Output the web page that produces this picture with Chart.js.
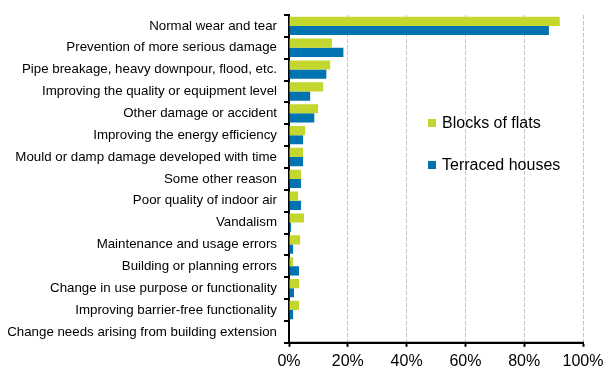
<!DOCTYPE html>
<html><head><meta charset="utf-8">
<script src="https://cdn.jsdelivr.net/npm/chart.js@4/dist/chart.umd.min.js"></script>
<style>
html,body{margin:0;padding:0;background:#fff;}
#wrap{position:relative;width:614px;height:392px;}
.lg{position:absolute;font-family:"Liberation Sans",Arial,sans-serif;font-size:16px;color:#000;display:flex;align-items:center;white-space:nowrap;line-height:18px;}
.sw{width:8px;height:8px;margin-right:6px;display:inline-block;}
</style></head>
<body>
<div id="wrap">
<canvas id="c" width="614" height="392"></canvas>
<div class="lg" style="left:428px;top:114px;"><span class="sw" style="background:#c3d72e"></span>Blocks of flats</div>
<div class="lg" style="left:428px;top:156px;"><span class="sw" style="background:#0073b0"></span>Terraced houses</div>
</div>
<script>
const categories = [
  "Normal wear and tear",
  "Prevention of more serious damage",
  "Pipe breakage, heavy downpour, flood, etc.",
  "Improving the quality or equipment level",
  "Other damage or accident",
  "Improving the energy efficiency",
  "Mould or damp damage developed with time",
  "Some other reason",
  "Poor quality of indoor air",
  "Vandalism",
  "Maintenance and usage errors",
  "Building or planning errors",
  "Change in use purpose or functionality",
  "Improving barrier-free functionality",
  "Change needs arising from building extension"
];
const blocksOfFlats = [92.1, 14.6, 14.0, 11.6, 9.9, 5.5, 4.8, 4.1, 3.1, 5.1, 3.8, 1.4, 3.4, 3.4, 0];
const terracedHouses = [88.4, 18.5, 12.7, 7.2, 8.6, 4.8, 4.8, 4.1, 4.1, 0.7, 1.4, 3.4, 1.7, 1.4, 0];
const xTicks = [0, 20, 40, 60, 80, 100];

const axisLine = {
  id: 'axisLine',
  afterDraw(chart) {
    const {ctx, chartArea: a} = chart;
    ctx.save();
    ctx.strokeStyle = '#000';
    ctx.lineWidth = 2;
    ctx.setLineDash([]);
    ctx.beginPath();
    ctx.moveTo(a.left - 1, a.bottom);
    ctx.lineTo(a.right + 1, a.bottom);
    ctx.stroke();
    ctx.restore();
  }
};

new Chart(document.getElementById('c'), {
  type: 'bar',
  data: {
    labels: categories,
    datasets: [
      {label: 'Blocks of flats', data: blocksOfFlats, backgroundColor: '#c3d72e', categoryPercentage: 0.84, barPercentage: 1.0},
      {label: 'Terraced houses', data: terracedHouses, backgroundColor: '#0073b0', categoryPercentage: 0.84, barPercentage: 1.0}
    ]
  },
  options: {
    indexAxis: 'y',
    responsive: false,
    animation: false,
    layout: {padding: {left: 4, right: 31, top: 13, bottom: 16}},
    plugins: {legend: {display: false}, tooltip: {enabled: false}},
    scales: {
      x: {
        min: 0, max: 100,
        afterBuildTicks: s => { s.ticks = xTicks.map(v => ({value: v})); },
        ticks: {callback: v => v + '%', color: '#000', font: {family: 'Liberation Sans', size: 16}, padding: 5, maxRotation: 0},
        grid: {color: '#c4c4c4', lineWidth: 1, drawTicks: true, tickLength: 4, tickColor: '#000', tickWidth: 2},
        border: {display: true, color: '#000', width: 2, dash: [4, 2]}
      },
      y: {
        afterFit: s => { s.width = 285; },
        ticks: {color: '#000', font: {family: 'Liberation Sans', size: 13.3}, padding: 7, autoSkip: false},
        grid: {drawOnChartArea: false, drawTicks: true, tickLength: 5, color: '#000', lineWidth: 2},
        border: {display: true, color: '#000', width: 2}
      }
    }
  },
  plugins: [axisLine]
});
</script>
</body></html>
